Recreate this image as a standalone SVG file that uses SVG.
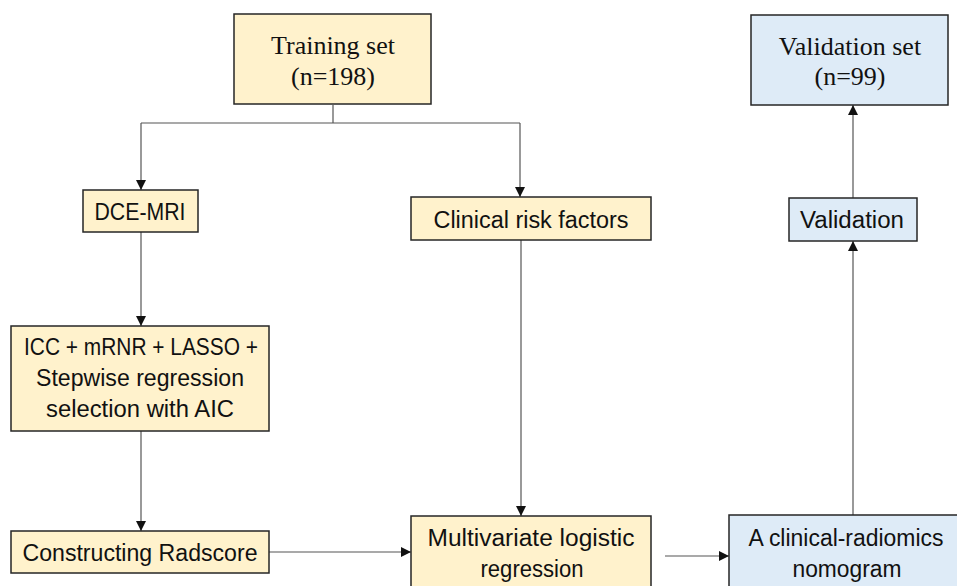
<svg xmlns="http://www.w3.org/2000/svg" width="957" height="586" viewBox="0 0 957 586">
<defs>
<style>
.y{fill:#FFF2CC;stroke:#262626;stroke-width:1.5}
.b{fill:#DEEBF7;stroke:#262626;stroke-width:1.5}
.s{font-family:"Liberation Serif","Times New Roman",serif;font-size:26px;fill:#111;text-anchor:middle}
.t{font-family:"Liberation Sans",Arial,sans-serif;font-size:23px;fill:#111;text-anchor:middle}
.c{fill:none;stroke:#555;stroke-width:1.2}
</style>
<marker id="ah" viewBox="0 0 10 10" refX="10" refY="5" markerWidth="10" markerHeight="10" markerUnits="userSpaceOnUse" orient="auto">
<path d="M0,0 L10,5 L0,10 Z" fill="#111"/>
</marker>
</defs>
<rect width="957" height="586" fill="#fff"/>
<g id="connectors">
<path class="c" d="M333,105 V123"/>
<path class="c" d="M141,123 H520"/>
<path class="c" d="M141,123 V190" marker-end="url(#ah)"/>
<path class="c" d="M520,123 V197" marker-end="url(#ah)"/>
<path class="c" d="M141,232 V326" marker-end="url(#ah)"/>
<path class="c" d="M141,431 V531" marker-end="url(#ah)"/>
<path class="c" d="M521,240 V516" marker-end="url(#ah)"/>
<path class="c" d="M269,552 H411" marker-end="url(#ah)"/>
<path class="c" d="M665,556 H729" marker-end="url(#ah)"/>
<path class="c" d="M853,515 V241" marker-end="url(#ah)"/>
<path class="c" d="M853,198 V105" marker-end="url(#ah)"/>
</g>
<g id="training">
<rect class="y" x="234" y="14" width="197" height="90"/>
<text class="s" x="333" y="54">Training set</text>
<text class="s" x="333" y="85">(n=198)</text>
</g>
<g id="validation-set">
<rect class="b" x="751" y="15" width="197" height="90"/>
<text class="s" x="850" y="55">Validation set</text>
<text class="s" x="850" y="85">(n=99)</text>
</g>
<g id="dce">
<rect class="y" x="83" y="190" width="115" height="42"/>
<text class="t" x="140" y="220" textLength="91" lengthAdjust="spacingAndGlyphs">DCE-MRI</text>
</g>
<g id="clinical">
<rect class="y" x="411" y="197" width="240" height="43"/>
<text class="t" x="531" y="228" textLength="195" lengthAdjust="spacingAndGlyphs">Clinical risk factors</text>
</g>
<g id="validation">
<rect class="b" x="789" y="198" width="128" height="43"/>
<text class="t" x="852" y="228" textLength="104" lengthAdjust="spacingAndGlyphs">Validation</text>
</g>
<g id="selection">
<rect class="y" x="11" y="326" width="258" height="105"/>
<text class="t" x="141" y="355" textLength="234" lengthAdjust="spacingAndGlyphs">ICC + mRNR + LASSO +</text>
<text class="t" x="140" y="386" textLength="208" lengthAdjust="spacingAndGlyphs">Stepwise regression</text>
<text class="t" x="140" y="417" textLength="188" lengthAdjust="spacingAndGlyphs">selection with AIC</text>
</g>
<g id="radscore">
<rect class="y" x="11" y="531" width="258" height="42"/>
<text class="t" x="140" y="561" textLength="235" lengthAdjust="spacingAndGlyphs">Constructing Radscore</text>
</g>
<g id="multivariate">
<rect class="y" x="411" y="516" width="240" height="80"/>
<text class="t" x="531" y="546" textLength="207" lengthAdjust="spacingAndGlyphs">Multivariate logistic</text>
<text class="t" x="532" y="577" textLength="103" lengthAdjust="spacingAndGlyphs">regression</text>
</g>
<g id="nomogram">
<rect class="b" x="729" y="515" width="234" height="80"/>
<text class="t" x="846" y="546" textLength="195" lengthAdjust="spacingAndGlyphs">A clinical-radiomics</text>
<text class="t" x="847" y="577" textLength="109" lengthAdjust="spacingAndGlyphs">nomogram</text>
</g>
</svg>
